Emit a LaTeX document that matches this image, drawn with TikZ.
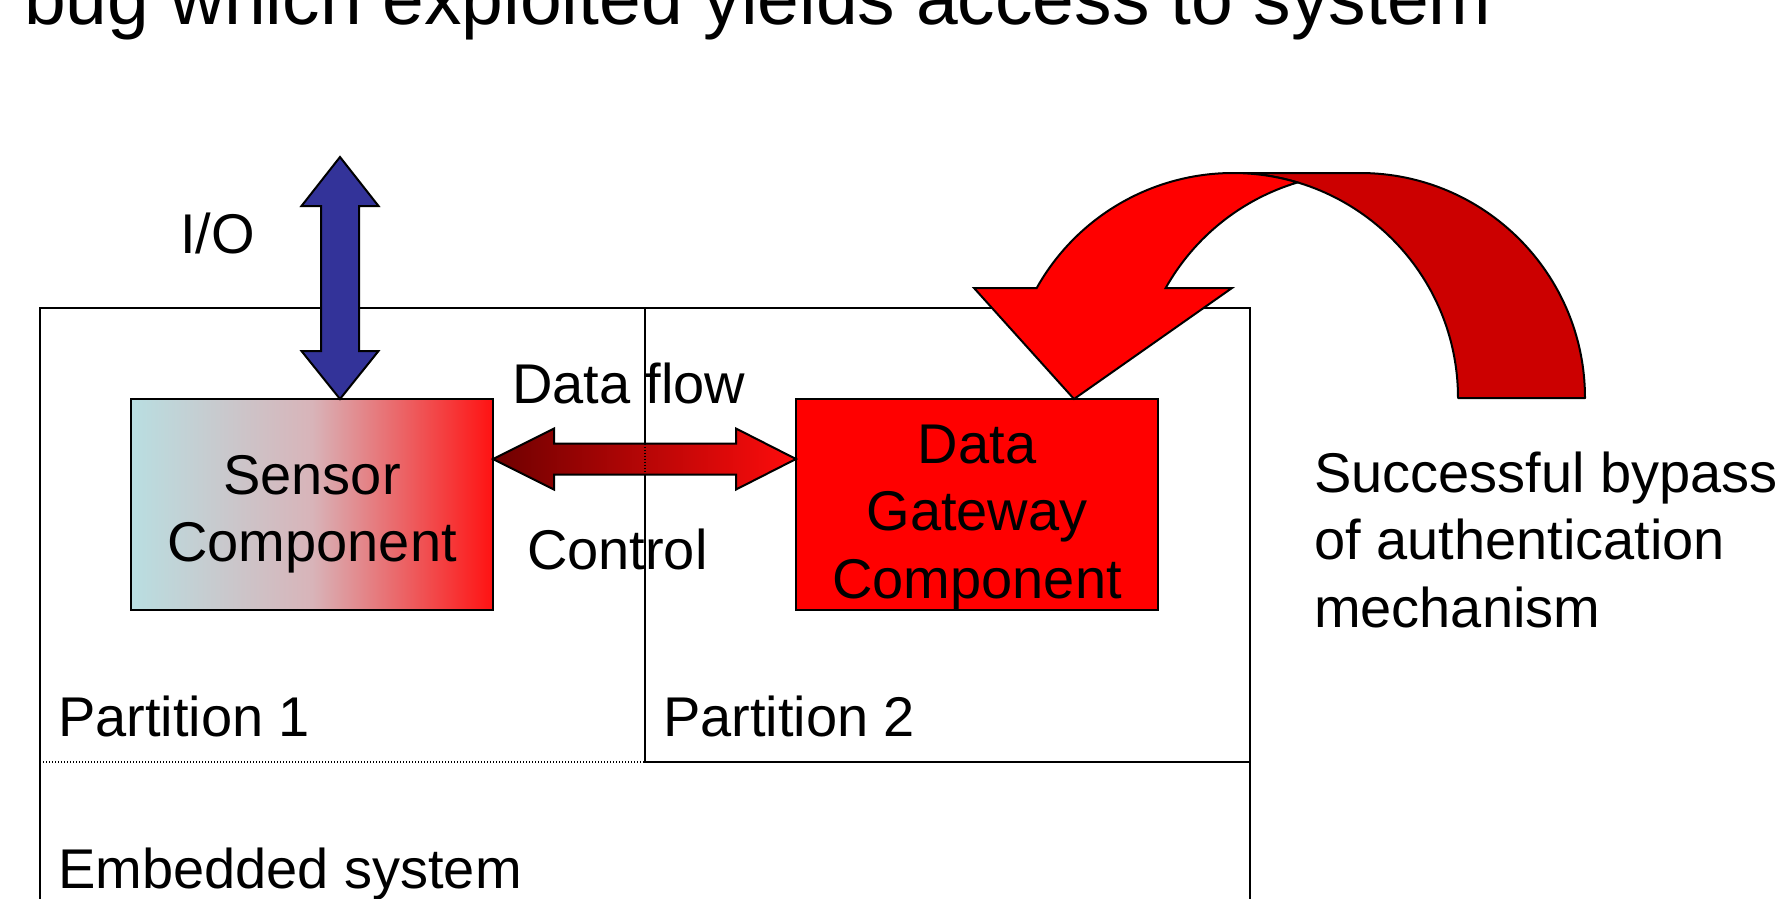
\documentclass[tikz,border=0pt]{standalone}
\usepackage{fontspec}
\setmainfont{Liberation Sans}
\usetikzlibrary{calc}

\definecolor{ioblue}{RGB}{51,51,153}
\definecolor{gatered}{RGB}{255,0,0}
\definecolor{backred}{RGB}{204,0,0}
\definecolor{flowdark}{RGB}{110,0,0}
\definecolor{flowlight}{RGB}{255,12,12}
\definecolor{sensorcyan}{RGB}{185,222,225}
\definecolor{sensormid}{RGB}{216,180,185}
\definecolor{sensorred}{RGB}{255,18,18}

\begin{document}
\begin{tikzpicture}[x=1pt,y=1pt,
  txt/.style={inner sep=0pt, outer sep=0pt, font=\fontsize{56}{67.5}\selectfont},
  frame/.style={draw=black, line width=1.5pt, inner sep=0pt, outer sep=0pt, anchor=north west},
  comp/.style={draw=black, line width=2.5pt, inner sep=0pt, outer sep=0pt,
    minimum width=362pt, minimum height=211pt, anchor=north west},
  blockarrow/.style={draw=black, line width=2pt, line join=miter},
]
\useasboundingbox (0,0) rectangle (1783,-898);
\clip (0,0) rectangle (1783,-898);

% heading line
\node[inner sep=0pt, font=\fontsize{75}{90}\selectfont, anchor=base west] (title)
  at (24,-24) {bug which exploited yields access to system};

% system and partition frames
\node[frame, minimum width=1210pt, minimum height=610pt] (embedded) at (40,-308) {};
\node[frame, minimum width=605pt, minimum height=454pt] (part2) at (645,-308) {};
\draw[line width=1.2pt, dash pattern=on 1.2pt off 1.8pt]
  (embedded.west |- part2.south) -- (part2.south west);

% components
\node[comp, left color=sensorcyan, right color=sensorred, middle color=sensormid]
  (sensor) at (131,-399) {};
\node[comp, fill=gatered] (gateway) at (796,-399) {};

\node[txt, align=center, anchor=north] (sensortext)
  at ([yshift=-47.75pt]sensor.north) {\strut Sensor\\Component};
\node[txt, align=center, anchor=north] (gatewaytext)
  at ([yshift=-17pt]gateway.north) {\strut Data\\Gateway\\Component};

% I/O double arrow
\coordinate (iobot) at ([xshift=209pt]sensor.north west);
\draw[blockarrow, fill=ioblue] (iobot) -- ++(-38.5,48) -- ++(19.5,0) -- ++(0,145)
  -- ++(-19.5,0) -- ++(38.5,49) -- ++(38.5,-49) -- ++(-19.5,0) -- ++(0,-145)
  -- ++(19.5,0) -- cycle;

% data flow / control double arrow
\coordinate (flowL) at ([yshift=-60pt]sensor.north east);
\coordinate (flowR) at ([yshift=-60pt]gateway.north west);
\path[blockarrow, shade, left color=flowdark, right color=flowlight]
  (flowL) -- ++(61,30.5) -- ++(0,-15) -- ($(flowR)+(-60,15.5)$) -- ++(0,15)
  -- (flowR) -- ++(-60,-30.5) -- ++(0,15) -- ($(flowL)+(61,-15.5)$) -- ++(0,-15) -- cycle;
\draw[line width=1.2pt, dash pattern=on 1.5pt off 1.5pt]
  ($(part2.north west |- flowL)+(0,15.5)$) -- ++(0,-31);

% curved bypass arrow: back band, then front band with head
\coordinate (bypasstip) at ([xshift=278pt]gateway.north west);
\filldraw[line width=2pt, fill=backred, line join=round]
  (1585,-398) arc[start angle=0, end angle=90, radius=225pt] -- (1233,-173)
  arc[start angle=90, end angle=0, radius=225pt] -- cycle;
\filldraw[line width=2pt, fill=gatered, line join=miter]
  (1036.7,-288) arc[start angle=150.73, end angle=73.34, radius=225pt]
  arc[start angle=106.66, end angle=150.73, radius=225pt]
  -- ($(bypasstip)+(158,111)$) -- (bypasstip) -- ($(bypasstip)+(-100,111)$) -- cycle;

% labels
\node[txt, anchor=base west] (iolabel) at (180,-253) {I/O};
\node[txt, anchor=base west] (flowlabel) at (512,-403) {Data flow};
\node[txt, anchor=base west] (ctrllabel) at (527,-569) {Control};
\node[txt, anchor=base west] (p1label) at (58,-736) {Partition 1};
\node[txt, anchor=base west] (p2label) at (663,-736) {Partition 2};
\node[txt, anchor=base west] (emblabel) at (58,-888) {Embedded system};
\node[txt, align=left, anchor=north west] (bypasslabel) at (1314,-444.75)
  {\strut Successful bypass\\of authentication\\mechanism};
\end{tikzpicture}
\end{document}
